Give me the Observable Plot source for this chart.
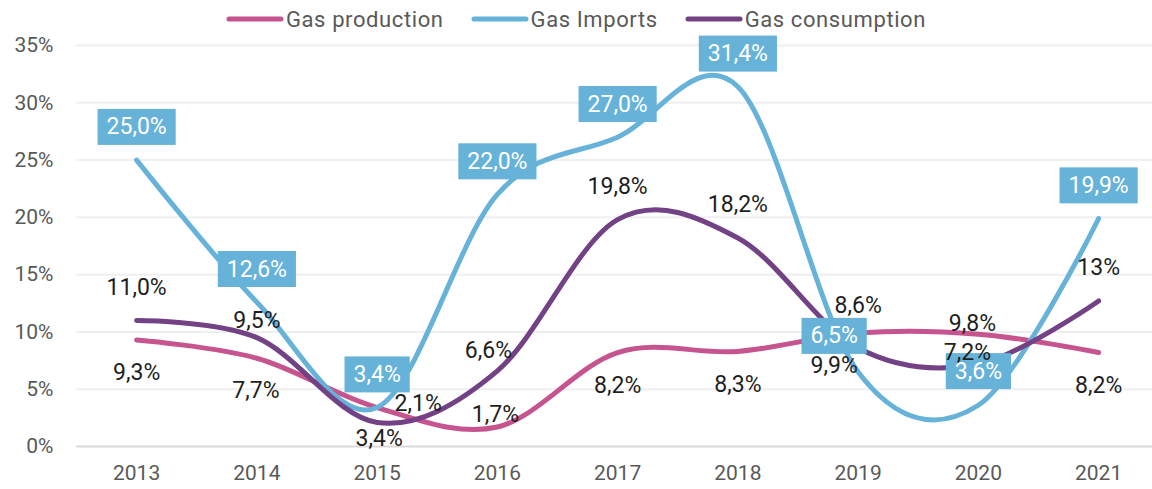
<!DOCTYPE html>
<html>
<head>
<meta charset="utf-8">
<script src="https://cdn.jsdelivr.net/npm/d3@7"></script>
<script src="https://cdn.jsdelivr.net/npm/@observablehq/plot@0.6"></script>
<style>
  html, body { margin: 0; padding: 0; background: #fff; }
  #legend { height: 34px; box-sizing: border-box; padding-top: 4px; display: flex; justify-content: center; align-items: center; gap: 27px; font: 22px Roboto, sans-serif; color: #595959; letter-spacing: 0.6px; }
  #legend .item { display: flex; align-items: center; gap: 2px; }
</style>
</head>
<body>
<div id="legend"></div>
<div id="chart"></div>
<script>
// ---- data ----
const years = [2013, 2014, 2015, 2016, 2017, 2018, 2019, 2020, 2021];
const seriesNames = ["Gas production", "Gas Imports", "Gas consumption"];
const gasProduction  = [9.3, 7.7, 3.4, 1.7, 8.2, 8.3, 9.9, 9.8, 8.2];
const gasImports     = [25.0, 12.6, 3.4, 22.0, 27.0, 31.4, 6.5, 3.6, 19.9];
const gasConsumption = [11.0, 9.5, 2.1, 6.6, 19.8, 18.2, 8.6, 7.2, 12.7];
const productionLabels  = ["9,3%", "7,7%", "3,4%", "1,7%", "8,2%", "8,3%", "9,9%", "9,8%", "8,2%"];
const importsLabels     = ["25,0%", "12,6%", "3,4%", "22,0%", "27,0%", "31,4%", "6,5%", "3,6%", "19,9%"];
const consumptionLabels = ["11,0%", "9,5%", "2,1%", "6,6%", "19,8%", "18,2%", "8,6%", "7,2%", "13%"];
const yTicks = [0, 5, 10, 15, 20, 25, 30, 35];

// ---- styles / label placement (pixels) ----
const colors = { "Gas production": "#C5548F", "Gas Imports": "#66B2D9", "Gas consumption": "#724285" };
const defaultNudge = { "Gas production": [0, 33], "Gas Imports": [0, -33], "Gas consumption": [0, -33] };
const nudges = {
  "Gas production": { 2014: [-1, 32], 2015: [2, 31], 2016: [-2, -12], 2019: [-24, 33], 2020: [-6, -11] },
  "Gas Imports": { 2019: [-24, -36], 2020: [0, -34] },
  "Gas consumption": { 2014: [0, -17], 2015: [41, -19], 2016: [-9, -20], 2019: [0, -42], 2020: [-11, -11] }
};

const valuesBySeries = { "Gas production": gasProduction, "Gas Imports": gasImports, "Gas consumption": gasConsumption };
const labelsBySeries = { "Gas production": productionLabels, "Gas Imports": importsLabels, "Gas consumption": consumptionLabels };

const rows = seriesNames.flatMap(s => years.map((yr, i) => ({ series: s, year: yr, value: valuesBySeries[s][i], label: labelsBySeries[s][i] })));

// legend
const legend = document.getElementById("legend");
for (const s of seriesNames) {
  const item = document.createElement("span");
  item.className = "item";
  item.innerHTML = `<svg width="58" height="10"><line x1="3" x2="55" y1="5" y2="5" stroke="${colors[s]}" stroke-width="5" stroke-linecap="round"/></svg><span>${s}</span>`;
  legend.appendChild(item);
}

const FONT = "Roboto, sans-serif";

const lineMarks = seriesNames.map(s => Plot.line(rows.filter(d => d.series === s), {
  x: "year", y: "value", stroke: colors[s], strokeWidth: 5, strokeLinecap: "round", strokeLinejoin: "round",
  curve: "cardinal", tension: 0
}));

const labelMarks = rows.map(d => {
  const n = (nudges[d.series] && nudges[d.series][d.year]) || defaultNudge[d.series];
  const isImport = d.series === "Gas Imports";
  return Plot.text([d], {
    x: "year", y: "value", text: "label", dx: n[0], dy: n[1],
    fill: isImport ? "#ffffff" : "#1e1e1e", fontSize: 23, fontFamily: FONT
  });
});

const chart = Plot.plot({
  width: 1152,
  height: 455,
  marginLeft: 76,
  marginRight: 0,
  marginTop: 11,
  marginBottom: 43,
  style: { fontFamily: FONT, fontSize: "21px", color: "#595959", background: "white", overflow: "visible" },
  x: { domain: [2012.5, 2021.448], ticks: years, tickFormat: d => String(d), tickSize: 0, tickPadding: 19, label: null },
  y: { domain: [0, 35], ticks: yTicks, tickFormat: d => d + "%", tickSize: 0, tickPadding: 23, label: null },
  marks: [
    Plot.ruleY(yTicks.filter(t => t > 0), { stroke: "#EFEFEF", strokeWidth: 2 }),
    Plot.ruleY([0], { stroke: "#D9D9D9", strokeWidth: 2 }),
    ...lineMarks,
    ...labelMarks
  ]
});
document.getElementById("chart").appendChild(chart);

// background boxes behind the import labels (the white texts)
chart.querySelectorAll("text").forEach(t => {
  const f = getComputedStyle(t).fill;
  if (f !== "rgb(255, 255, 255)" && f !== "#ffffff") return;
  const b = t.getBBox();
  const cx = b.x + b.width / 2, cy = b.y + b.height / 2;
  const w = b.width + 18, h = 36;
  const r = document.createElementNS("http://www.w3.org/2000/svg", "rect");
  r.setAttribute("x", cx - w / 2);
  r.setAttribute("y", cy - h / 2);
  r.setAttribute("width", w);
  r.setAttribute("height", h);
  r.setAttribute("fill", colors["Gas Imports"]);
  const tr = t.getAttribute("transform");
  if (tr) r.setAttribute("transform", tr);
  t.parentNode.insertBefore(r, t);
});
</script>
</body>
</html>
